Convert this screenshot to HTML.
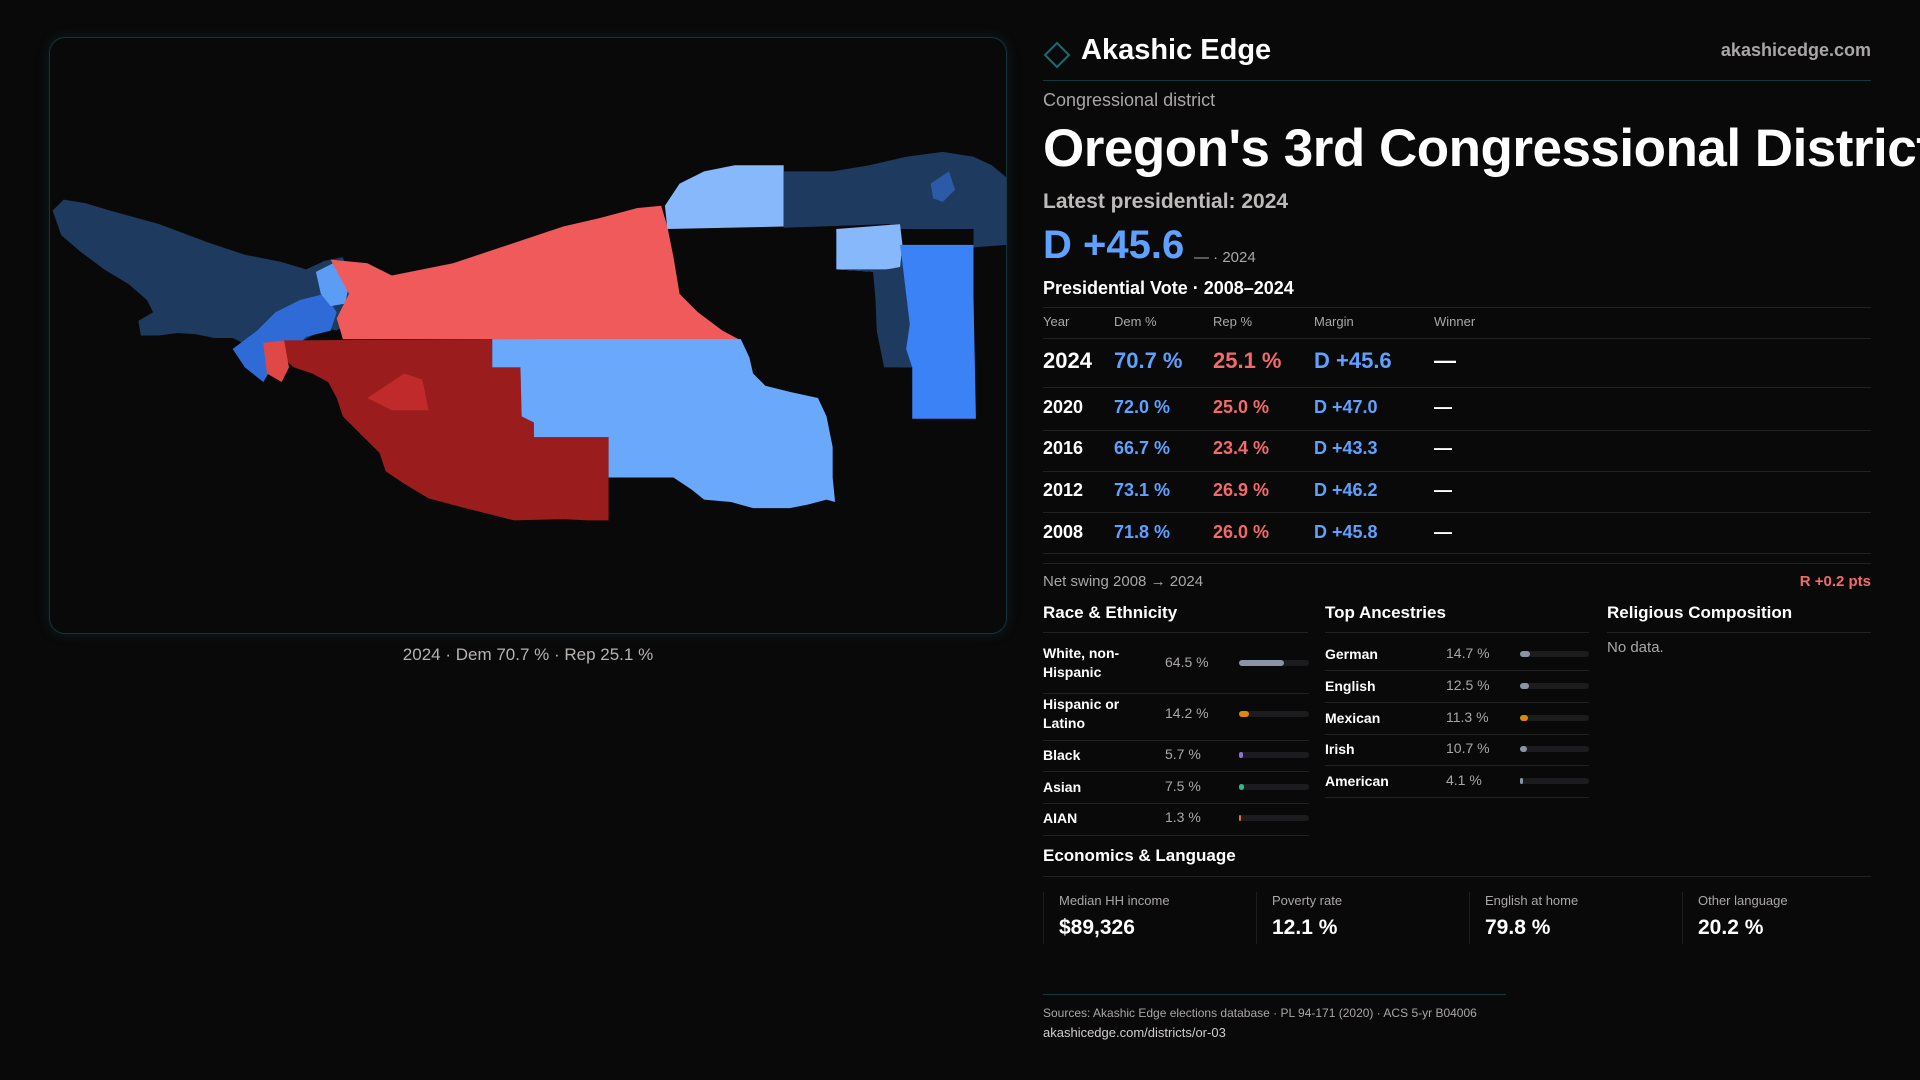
<!DOCTYPE html>
<html><head><meta charset="utf-8">
<style>
*{margin:0;padding:0;box-sizing:border-box}
body{width:1920px;height:1080px;background:#0a090a;color:#fff;font-family:"Liberation Sans",sans-serif;position:relative;overflow:hidden}
.abs{position:absolute;white-space:nowrap}
.map-panel{position:absolute;left:49px;top:37px;width:958px;height:597px;border:1px solid #12363a;border-radius:16px;box-shadow:0 0 12px rgba(20,90,100,.25)}
.line{position:absolute;height:1px;background:#222}
.gray{color:#a9a6a6}
.blue{color:#5ea1ff}
.red{color:#f26a6a}
.sec{font-size:17px;font-weight:bold}
</style></head><body>
<div class="map-panel"></div>
<svg class="abs" style="left:0;top:0" width="1920" height="1080" viewBox="0 0 1568 882">
<polygon fill="#1e3a5f" points="43,172 52,163 70,166 90,172 130,183 170,198 200,208 230,214 250,220 265,213 280,210 285,225 290,240 285,262 275,270 265,268 250,277 240,282 220,284 200,281 190,276 175,276 160,273 145,272 130,274 115,274 113,262 125,255 120,245 105,232 85,220 65,205 50,192"/>
<polygon fill="#2f6bd6" points="210,270 225,255 245,245 265,240 275,255 270,270 250,275 240,285 225,295 215,312 200,300 190,285"/>
<polygon fill="#5b9cf5" points="258,222 272,215 285,232 282,248 270,250 262,240"/>
<polygon fill="#f15a5a" points="270,212 300,215 320,225 370,215 400,205 430,195 460,185 490,178 520,170 540,168 545,185 550,210 555,240 570,255 590,270 605,278 390,277 280,277 275,260 285,240"/>
<polygon fill="#9b1c1c" points="230,278 402,277 402,300 425,300 426,340 436,345 436,357 497,357 497,425 480,425 460,424 420,425 400,420 380,415 350,407 330,395 315,385 310,370 295,355 280,340 275,325 268,312 255,305 240,300 232,293 225,285"/>
<polygon fill="#c02a2a" points="300,325 330,305 345,310 350,335 320,335"/>
<polygon fill="#e04848" points="215,280 232,278 236,300 230,312 218,305"/>
<polygon fill="#6aa8fb" points="402,277 605,277 612,292 615,305 625,315 645,320 668,325 675,340 680,365 680,390 682,410 675,408 660,412 645,415 615,415 597,410 575,408 565,400 550,390 535,390 510,390 497,390 497,357 436,357 436,345 426,340 425,300 402,300"/>
<polygon fill="#86b8fb" points="543,168 555,150 575,140 600,135 640,135 640,185 545,187"/>
<polygon fill="#1e3a5f" points="640,140 680,140 710,135 740,128 770,124 795,128 810,135 822,145 822,200 795,202 795,187 735,187 735,183 725,183 640,186"/>
<polygon fill="#86b8fb" points="683,187 735,183 737,200 735,220 715,222 683,220"/>
<polygon fill="#1e3a5f" points="683,220 715,222 718,245 722,270 735,300 745,300 745,240 737,200 735,220"/>
<polygon fill="#1e3a5f" points="713,222 735,218 740,250 742,280 745,300 722,300 716,270 715,245"/>
<polygon fill="#3b82f6" points="735,200 795,200 795,242 797,342 745,342 745,300 740,285 743,265 740,240 737,215"/>
<polygon fill="#2a5aa8" points="760,150 775,140 780,155 770,165 762,162"/>
</svg>
<div class="abs gray" style="left:528px;top:645px;transform:translateX(-50%);font-size:17px;color:#b5b2b2">2024 · Dem 70.7 % · Rep 25.1 %</div>

<svg class="abs" style="left:1043px;top:41px" width="28" height="28"><polygon points="14,2 26,14 14,26 2,14" fill="none" stroke="#1a6a72" stroke-width="2"/></svg>
<div class="abs" style="left:1081px;top:34px;font-size:29px;font-weight:bold">Akashic Edge</div>
<div class="abs gray" style="right:49px;top:40px;font-size:18px;font-weight:bold">akashicedge.com</div>
<div class="line" style="left:1043px;top:80px;width:828px;background:#16393d"></div>
<div class="abs gray" style="left:1043px;top:90px;font-size:18px">Congressional district</div>
<div class="abs" style="left:1043px;top:118px;font-size:53px;font-weight:bold;letter-spacing:-0.5px">Oregon's 3rd Congressional District</div>
<div class="abs" style="left:1043px;top:190px;font-size:21px;font-weight:bold;color:#bdbaba">Latest presidential: 2024</div>
<div class="abs blue" style="left:1043px;top:223px;font-size:40px;font-weight:bold">D +45.6</div>
<div class="abs gray" style="left:1194px;top:249px;font-size:15px">— · 2024</div>
<div class="abs" style="left:1043px;top:278px;font-size:18px;font-weight:bold">Presidential Vote · 2008–2024</div>
<div id="vote-table"></div>
<div class="abs gray" style="left:1043px;top:573px;font-size:15px">Net swing 2008 → 2024</div>
<div class="abs red" style="right:49px;top:573px;font-size:15px;font-weight:bold">R +0.2 pts</div>

<div class="abs sec" style="left:1043px;top:603px">Race &amp; Ethnicity</div>
<div class="abs sec" style="left:1325px;top:603px">Top Ancestries</div>
<div class="abs sec" style="left:1607px;top:603px">Religious Composition</div>
<div class="line" style="left:1043px;top:632px;width:265px"></div>
<div class="line" style="left:1325px;top:632px;width:264px"></div>
<div class="line" style="left:1607px;top:632px;width:264px"></div>
<div class="abs gray" style="left:1607px;top:639px;font-size:15px">No data.</div>
<div id="race"></div>
<div id="anc"></div>

<div class="abs sec" style="left:1043px;top:846px">Economics &amp; Language</div>
<div class="line" style="left:1043px;top:876px;width:828px"></div>
<div id="econ"></div>

<div class="line" style="left:1043px;top:994px;width:463px;background:#16393d"></div>
<div class="abs gray" style="left:1043px;top:1006px;font-size:12px">Sources: Akashic Edge elections database · PL 94-171 (2020) · ACS 5-yr B04006</div>
<div class="abs" style="left:1043px;top:1025px;font-size:13px;color:#cfcccc">akashicedge.com/districts/or-03</div>

<script>
const years=["2024","2020","2016","2012","2008"];
const demPct=[70.7,72.0,66.7,73.1,71.8];
const repPct=[25.1,25.0,23.4,26.9,26.0];
const raceLabels=["White, non-Hispanic","Hispanic or Latino","Black","Asian","AIAN"];
const raceValues=[64.5,14.2,5.7,7.5,1.3];
const raceColors=["#8a94a6","#d98a0c","#8b6fe0","#25c08a","#d97a0c"];
const ancLabels=["German","English","Mexican","Irish","American"];
const ancValues=[14.7,12.5,11.3,10.7,4.1];
const ancColors=["#8a94a6","#8a94a6","#d98a0c","#8a94a6","#8a94a6"];
const econLabels=["Median HH income","Poverty rate","English at home","Other language"];
const econValues=["$89,326","12.1 %","79.8 %","20.2 %"];

function mk(tag,cls,style,text){const e=document.createElement(tag);if(cls)e.className=cls;e.style.cssText=style;if(text!=null)e.textContent=text;document.body.appendChild(e);return e;}

const cols=[1043,1114,1213,1314,1434];
const heads=["Year","Dem %","Rep %","Margin","Winner"];
heads.forEach((h,i)=>{const e=mk('div','abs gray','left:'+cols[i]+'px;top:314px;font-size:13px',h);

});
const l0=mk('div','line','left:1043px;top:307px;width:828px');


const l1=mk('div','line','left:1043px;top:338px;width:828px');


const rowC=[361,408,449,491,533], rowL=[387,430,471,512,553];
years.forEach((y,i)=>{
  const fs=i===0?22:18, top=rowC[i]-fs*0.6;
  const m=(demPct[i]-repPct[i]).toFixed(1);
  const vals=[y,demPct[i].toFixed(1)+' %',repPct[i].toFixed(1)+' %','D +'+m,'—'];
  const cls=['','blue','red','blue',''];
  vals.forEach((v,j)=>{const e=mk('div','abs '+cls[j],'left:'+cols[j]+'px;top:'+top+'px;font-size:'+fs+'px;font-weight:bold',v);
  
  });
  const l=mk('div','line','left:1043px;top:'+rowL[i]+'px;width:828px');
  
  
});
const l2=mk('div','line','left:1043px;top:563px;width:828px');



function barList(labels,vals,colors,x,valX,barX,barW,centers,lines,prefix){
  labels.forEach((lab,i)=>{
    const c=centers[i];
    const t=mk('div','abs','left:'+x+'px;top:'+(c-(lab.length>12&&prefix==='race'?19:9))+'px;font-size:14px;font-weight:bold;line-height:19px;white-space:normal;width:90px',lab);
    
    
    const v=mk('div','abs gray','left:'+valX+'px;top:'+(c-9)+'px;font-size:14px',vals[i].toFixed(1)+' %');
    
    
    const tr=mk('div','abs','left:'+barX+'px;top:'+(c-3)+'px;width:'+barW+'px;height:6px;border-radius:3px;background:#1c1c1e');
    
    
    const f=mk('div','abs','left:'+barX+'px;top:'+(c-3)+'px;width:'+Math.max(2,vals[i]/100*barW)+'px;height:6px;border-radius:3px;background:'+colors[i]);
    
    
    const l=mk('div','line','left:'+x+'px;top:'+lines[i]+'px;width:'+(barX+barW-x)+'px');
    
    
  });
}
barList(raceLabels,raceValues,raceColors,1043,1165,1239,70,[663,714,755,787,818],[693,740,771,803,835],'race');
barList(ancLabels,ancValues,ancColors,1325,1446,1520,69,[654,686,718,749,781],[670,702,734,765,797],'ancestry');

const cx=[1043,1256,1469,1682];
econLabels.forEach((lab,i)=>{
  const b=mk('div','abs','left:'+cx[i]+'px;top:892px;width:1px;height:52px;background:#1e1e20');
  
  
  const l=mk('div','abs gray','left:'+(cx[i]+16)+'px;top:893px;font-size:13px',lab);
  
  
  const v=mk('div','abs','left:'+(cx[i]+16)+'px;top:916px;font-size:21px;font-weight:bold',econValues[i]);
  
  
});
</script>
</body></html>
